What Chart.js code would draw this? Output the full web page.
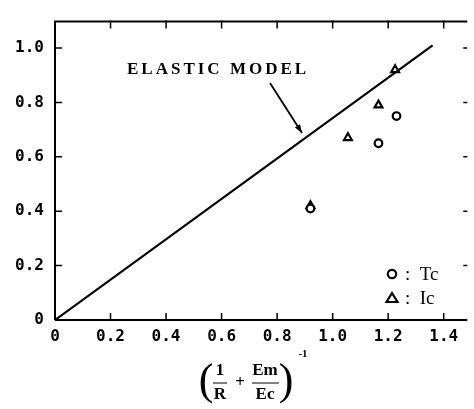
<!DOCTYPE html>
<html>
<head>
<meta charset="utf-8">
<script src="https://cdn.jsdelivr.net/npm/chart.js@4.4.0/dist/chart.umd.min.js"></script>
<style>
  html, body { margin: 0; padding: 0; background: #fff; }
  #wrap { width: 474px; height: 409px; position: relative; }
</style>
</head>
<body>
<div id="wrap"><canvas id="elasticChart"></canvas></div>
<script>
// valores
const tcX = [0.92, 1.165, 1.23];
const tcY = [0.41, 0.65, 0.75];
const icX = [0.92, 1.055, 1.165, 1.225];
const icY = [0.42, 0.67, 0.79, 0.92];
const modelX = [0, 1.36];
const modelY = [0, 1.01];
const xTickVals = [0, 0.2, 0.4, 0.6, 0.8, 1.0, 1.2, 1.4];
const yTickVals = [0, 0.2, 0.4, 0.6, 0.8, 1.0];

const pares = (xs, ys) => xs.map((x, i) => ({ x: x, y: ys[i] }));
const fmt = v => v === 0 ? '0' : v.toFixed(1);
const tickFont = { family: "'DejaVu Sans Mono'", size: 16, weight: 'bold' };

// moldura, ticks internos, anotação, legenda e título do eixo x
const decoracao = {
    id: 'decoracao',
    afterDraw(chart) {
        const { ctx, chartArea: a, scales: { x, y } } = chart;
        ctx.save();
        ctx.strokeStyle = '#000';
        ctx.fillStyle = '#000';
        ctx.lineWidth = 2;

        ctx.beginPath();
        ctx.moveTo(a.left, a.top + 1); ctx.lineTo(a.right, a.top + 1);
        ctx.moveTo(a.left, a.top); ctx.lineTo(a.left, a.bottom);
        ctx.moveTo(a.left, a.bottom); ctx.lineTo(a.right, a.bottom);
        ctx.stroke();

        ctx.lineWidth = 1.5;
        ctx.beginPath();
        xTickVals.slice(1).forEach(v => {
            const px = x.getPixelForValue(v);
            ctx.moveTo(px, a.bottom); ctx.lineTo(px, a.bottom - 7);
            ctx.moveTo(px, a.top); ctx.lineTo(px, a.top + 8);
        });
        yTickVals.slice(1).forEach(v => {
            const py = y.getPixelForValue(v);
            ctx.moveTo(a.left, py); ctx.lineTo(a.left + 7, py);
            ctx.moveTo(a.right, py); ctx.lineTo(a.right - 4, py);
        });
        ctx.stroke();

        // ELASTIC MODEL + seta
        ctx.font = "bold 17px 'Liberation Serif'";
        ctx.letterSpacing = '3px';
        ctx.textBaseline = 'middle';
        ctx.fillText('ELASTIC MODEL', 127, 70);
        ctx.letterSpacing = '0px';

        const x0 = 270, y0 = 83, x1 = 302, y1 = 133;
        ctx.lineWidth = 1.8;
        ctx.beginPath(); ctx.moveTo(x0, y0); ctx.lineTo(x1, y1); ctx.stroke();
        const ang = Math.atan2(y1 - y0, x1 - x0);
        ctx.beginPath();
        ctx.moveTo(x1, y1);
        ctx.lineTo(x1 - 9 * Math.cos(ang - 0.35), y1 - 9 * Math.sin(ang - 0.35));
        ctx.lineTo(x1 - 9 * Math.cos(ang + 0.35), y1 - 9 * Math.sin(ang + 0.35));
        ctx.closePath(); ctx.fill();

        // legenda
        ctx.lineWidth = 2.2;
        ctx.beginPath(); ctx.arc(392, 274, 4.2, 0, Math.PI * 2); ctx.stroke();
        ctx.beginPath();
        ctx.moveTo(392, 293); ctx.lineTo(397.5, 302); ctx.lineTo(386.5, 302); ctx.closePath(); ctx.stroke();
        ctx.font = "19px 'Liberation Serif'";
        ctx.fillText(':  Tc', 405, 275);
        ctx.fillText(':  Ic', 405, 299);

        // título do eixo x: (1/R + Em/Ec)^-1
        ctx.font = "bold 17px 'Liberation Serif'";
        ctx.textAlign = 'center';
        ctx.fillText('1', 220, 371);
        ctx.fillText('R', 220, 395);
        ctx.fillText('+', 240, 383);
        ctx.fillText('Em', 265, 371);
        ctx.fillText('Ec', 265, 395);
        ctx.lineWidth = 1;
        ctx.beginPath();
        ctx.moveTo(213, 383); ctx.lineTo(227, 383);
        ctx.moveTo(252, 383); ctx.lineTo(279, 383);
        ctx.stroke();
        ctx.font = "44px 'Liberation Serif'";
        ctx.fillText('(', 206, 382);
        ctx.fillText(')', 286, 382);
        ctx.font = "bold 11px 'Liberation Serif'";
        ctx.fillText('-1', 303, 354);
        ctx.restore();
    }
};

new Chart(document.getElementById('elasticChart'), {
    type: 'scatter',
    data: {
        datasets: [
            {
                label: 'Elastic model',
                type: 'line',
                data: pares(modelX, modelY),
                borderColor: '#000',
                borderWidth: 2.2,
                pointRadius: 0,
                fill: false
            },
            {
                label: 'Tc',
                data: pares(tcX, tcY),
                pointStyle: 'circle',
                pointRadius: 3.8,
                borderColor: '#000',
                backgroundColor: '#fff',
                borderWidth: 2.2
            },
            {
                label: 'Ic',
                data: pares(icX, icY),
                pointStyle: 'triangle',
                pointRadius: 4.5,
                borderColor: '#000',
                backgroundColor: '#fff',
                borderWidth: 2.2
            }
        ]
    },
    options: {
        responsive: true,
        maintainAspectRatio: false,
        animation: false,
        layout: { padding: { top: 6, right: 0, left: 0, bottom: 0 } },
        plugins: { legend: { display: false }, tooltip: { enabled: false } },
        scales: {
            x: {
                type: 'linear',
                min: 0, max: 1.485,
                afterBuildTicks: s => { s.ticks = xTickVals.map(v => ({ value: v })); },
                afterFit: s => { s.height = 89; },
                grid: { display: false, drawTicks: false },
                border: { display: false },
                ticks: { callback: fmt, color: '#000', font: tickFont, padding: 7, maxRotation: 0 }
            },
            y: {
                type: 'linear',
                min: 0, max: 1.101,
                afterBuildTicks: s => { s.ticks = yTickVals.map(v => ({ value: v })); },
                afterFit: s => { s.width = 55; },
                grid: { display: false, drawTicks: false },
                border: { display: false },
                ticks: { callback: fmt, color: '#000', font: tickFont, padding: 11 }
            }
        }
    },
    plugins: [decoracao]
});
</script>
</body>
</html>
